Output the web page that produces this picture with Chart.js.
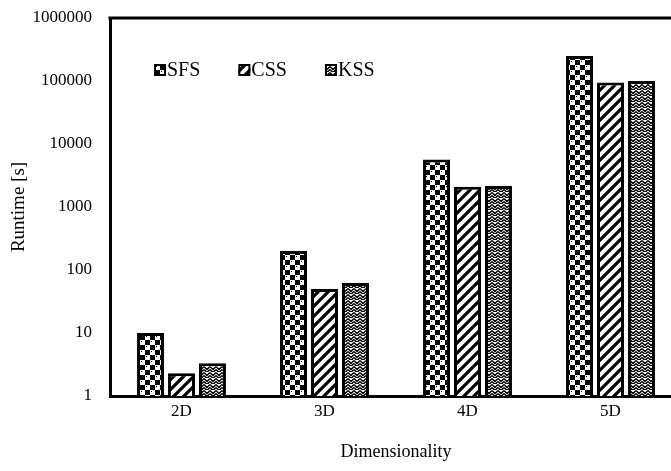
<!DOCTYPE html>
<html>
<head>
<meta charset="utf-8">
<script src="https://cdn.jsdelivr.net/npm/chart.js@4/dist/chart.umd.min.js"></script>
<style>
  html, body { margin: 0; padding: 0; background: #fff; overflow: hidden; }
  #wrap { width: 682px; height: 471px; }
</style>
</head>
<body>
<div id="wrap"><canvas id="grafico"></canvas></div>
<script>
// dados
var categorias = ['2D', '3D', '4D', '5D'];
var sfs = [10, 200, 5700, 250000];
var css = [2.3, 50, 2100, 95000];
var kss = [3.3, 62, 2150, 100000];
var ticksY = [1, 10, 100, 1000, 10000, 100000, 1000000];

// padroes de preenchimento
function padraoXadrez() {
  var c = document.createElement('canvas');
  c.width = 10; c.height = 10;
  var g = c.getContext('2d');
  g.fillStyle = '#000';
  g.fillRect(0, 0, 10, 10);
  g.fillStyle = '#fff';
  g.fillRect(0, 0, 5, 5);
  g.fillRect(5, 5, 5, 5);
  g.fillStyle = '#000';
  g.fillRect(1, 1, 1, 1);
  g.fillRect(6, 6, 1, 1);
  return g.createPattern(c, 'repeat');
}

function padraoListras() {
  var c = document.createElement('canvas');
  c.width = 10; c.height = 10;
  var g = c.getContext('2d');
  g.fillStyle = '#fff';
  g.fillRect(0, 0, 10, 10);
  g.strokeStyle = '#000';
  g.lineWidth = 3.2;
  g.beginPath();
  g.moveTo(-2, 12); g.lineTo(12, -2);
  g.moveTo(-7, 7); g.lineTo(7, -7);
  g.moveTo(3, 17); g.lineTo(17, 3);
  g.stroke();
  return g.createPattern(c, 'repeat');
}

function padraoZigue() {
  var c = document.createElement('canvas');
  c.width = 6; c.height = 6;
  var g = c.getContext('2d');
  g.fillStyle = '#fff';
  g.fillRect(0, 0, 6, 6);
  g.strokeStyle = '#000';
  g.lineWidth = 1.4;
  g.beginPath();
  g.moveTo(0, 0.5); g.lineTo(3, 3.5); g.lineTo(6, 0.5);
  g.moveTo(0, 3.5); g.lineTo(3, 6.5); g.lineTo(6, 3.5);
  g.stroke();
  return g.createPattern(c, 'repeat');
}

var fonte = 'Liberation Serif';

// linha superior do quadro
var molduraTopo = {
  id: 'molduraTopo',
  afterDraw: function (chart) {
    var a = chart.chartArea;
    var ctx = chart.ctx;
    ctx.save();
    ctx.strokeStyle = '#000';
    ctx.lineWidth = 3;
    ctx.beginPath();
    ctx.moveTo(a.left - 1.5, a.top);
    ctx.lineTo(chart.width, a.top);
    ctx.stroke();
    ctx.restore();
  }
};

// legenda dentro da area, em linha
var legendaInterna = {
  id: 'legendaInterna',
  afterDraw: function (chart) {
    var a = chart.chartArea;
    var ctx = chart.ctx;
    var x = a.left + 44;
    var y = a.top + 52;
    ctx.save();
    ctx.font = '20px "' + fonte + '"';
    ctx.textBaseline = 'middle';
    chart.data.datasets.forEach(function (ds) {
      ctx.fillStyle = ds.backgroundColor;
      ctx.fillRect(x, y - 6, 12, 12);
      ctx.strokeStyle = '#000';
      ctx.lineWidth = 2;
      ctx.strokeRect(x + 1, y - 5, 10, 10);
      ctx.fillStyle = '#000';
      ctx.fillText(ds.label, x + 13, y + 1);
      x += 13 + ctx.measureText(ds.label).width + 38;
    });
    ctx.restore();
  }
};

var ctx = document.getElementById('grafico').getContext('2d');
var chart = new Chart(ctx, {
  type: 'bar',
  data: {
    labels: categorias,
    datasets: [
      { label: 'SFS', data: sfs, backgroundColor: padraoXadrez(), borderColor: '#000', borderWidth: 3, borderSkipped: 'bottom' },
      { label: 'CSS', data: css, backgroundColor: padraoListras(), borderColor: '#000', borderWidth: 3, borderSkipped: 'bottom' },
      { label: 'KSS', data: kss, backgroundColor: padraoZigue(), borderColor: '#000', borderWidth: 3, borderSkipped: 'bottom' }
    ]
  },
  plugins: [molduraTopo, legendaInterna],
  options: {
    responsive: true,
    maintainAspectRatio: false,
    animation: false,
    layout: { padding: { top: 18, right: 0, left: 0, bottom: 0 } },
    datasets: { bar: { categoryPercentage: 0.65, barPercentage: 0.87 } },
    plugins: {
      tooltip: { enabled: false },
      legend: { display: false }
    },
    scales: {
      x: {
        grid: { display: false, drawTicks: false },
        border: { display: true, color: '#000', width: 3 },
        ticks: { color: '#000', padding: 5, font: { family: fonte, size: 17 } },
        title: { display: true, text: 'Dimensionality', color: '#000', padding: { top: 4, bottom: 8 }, font: { family: fonte, size: 18 } },
        afterFit: function (scale) { scale.height = 75; }
      },
      y: {
        type: 'logarithmic',
        min: 1,
        max: 1000000,
        grid: { display: false, drawTicks: false },
        border: { display: true, color: '#000', width: 3 },
        afterBuildTicks: function (scale) {
          scale.ticks = ticksY.map(function (v) { return { value: v }; });
        },
        ticks: {
          color: '#000',
          padding: 18,
          font: { family: fonte, size: 17 },
          callback: function (v) { return String(v); }
        },
        title: { display: true, text: 'Runtime [s]', color: '#000', padding: { top: 8, bottom: 6 }, font: { family: fonte, size: 19 } },
        afterFit: function (scale) {
          scale.width = 110;
          scale.paddingTop = 0;
          scale.paddingBottom = 0;
        }
      }
    }
  }
});
</script>
</body>
</html>
